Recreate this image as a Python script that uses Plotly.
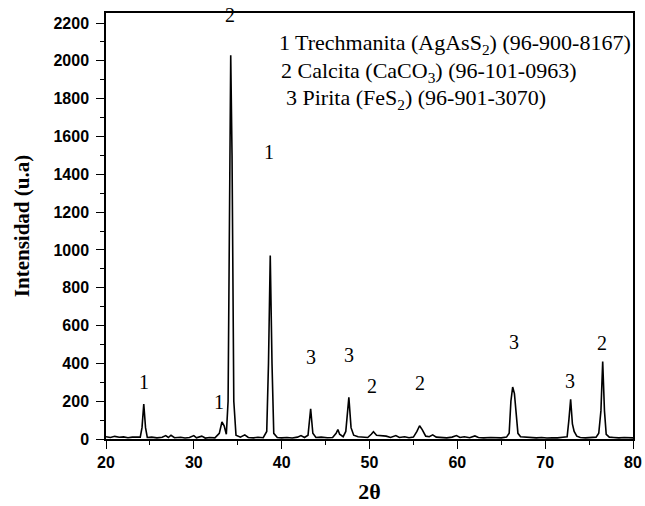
import plotly.graph_objects as go

# 2-theta positions (degrees) and intensities (u.a.)
two_theta = [20.0, 20.5, 21.0, 21.5, 22.0, 22.5, 23.0, 23.5, 23.9, 24.1, 24.3, 24.5, 24.7,
             25.2, 25.8, 26.4, 26.8, 27.1, 27.4, 27.8, 28.5, 29.0, 29.5, 30.0, 30.3, 30.9,
             31.3, 31.8, 32.4, 32.9, 33.2, 33.45, 33.7, 33.9, 34.05, 34.2, 34.35, 34.55, 34.8,
             35.3, 35.8, 36.2, 36.8, 37.3, 37.9, 38.3, 38.5, 38.7, 38.9, 39.1, 39.5, 40.0,
             40.6, 41.2, 41.8, 42.2, 42.6, 43.0, 43.3, 43.55, 43.9, 44.5, 45.2, 45.8, 46.2,
             46.4, 46.6, 47.0, 47.3, 47.65, 47.9, 48.2, 48.7, 49.3, 49.8, 50.2, 50.45, 50.8,
             51.3, 51.9, 52.4, 53.0, 53.4, 54.0, 54.5, 55.0, 55.4, 55.7, 56.0, 56.4, 56.8,
             57.2, 57.6, 58.2, 58.8, 59.4, 59.9, 60.3, 60.8, 61.4, 62.0, 62.4, 63.0, 63.8,
             64.5, 65.0, 65.6, 65.9, 66.1, 66.3, 66.5, 66.7, 66.9, 67.2, 67.8, 68.4, 69.0,
             69.6, 70.2, 70.8, 71.4, 72.0, 72.5, 72.7, 72.9, 73.1, 73.3, 73.6, 74.0, 74.6,
             75.2, 75.8, 76.1, 76.35, 76.55, 76.75, 76.95, 77.3, 77.8, 78.4, 79.0, 79.5, 80.0]
intensity = [12, 8, 14, 9, 11, 7, 10, 8, 10, 60, 185, 60, 8,
             10, 6, 9, 18, 8, 20, 7, 9, 5, 8, 18, 6, 15,
             5, 8, 6, 30, 90, 70, 25, 200, 1200, 2030, 1500, 200, 20,
             10, 22, 8, 6, 9, 7, 40, 400, 970, 400, 30, 8, 6,
             8, 5, 10, 18, 8, 20, 160, 30, 8, 10, 7, 8, 30,
             50, 25, 12, 40, 220, 60, 20, 12, 10, 8, 25, 38, 20,
             18, 15, 8, 18, 8, 12, 7, 10, 40, 70, 50, 15, 12,
             22, 10, 8, 6, 10, 18, 8, 12, 7, 16, 8, 6, 8,
             7, 6, 10, 30, 200, 275, 240, 150, 30, 12, 10, 8, 6,
             8, 5, 7, 6, 9, 12, 100, 210, 80, 40, 15, 8, 6,
             8, 10, 30, 150, 410, 150, 25, 10, 8, 6, 8, 5, 6]

# Peak labels (phase number) and their positions
label_text = ["1", "1", "2", "1", "3", "3", "2", "2", "3", "3", "2"]
label_x = [24.3, 32.9, 34.1, 38.6, 43.3, 47.7, 50.3, 55.7, 66.4, 72.8, 76.5]
label_y = [300, 195, 2240, 1520, 435, 445, 280, 295, 515, 305, 510]

# Legend lines (phase identification)
legend_lines = ["1 Trechmanita (AgAsS<sub>2</sub>) (96-900-8167)",
                "2 Calcita (CaCO<sub>3</sub>) (96-101-0963)",
                "3 Pirita (FeS<sub>2</sub>) (96-901-3070)"]
legend_x = [0.325, 0.329, 0.337]
legend_y = [0.927, 0.862, 0.798]

fig = go.Figure()
fig.add_trace(go.Scatter(x=two_theta, y=intensity, mode="lines",
                         line=dict(color="black", width=1.6), showlegend=False))

serif = "Liberation Serif, Times New Roman, serif"
for t, x, y in zip(label_text, label_x, label_y):
    fig.add_annotation(x=x, y=y, text=t, showarrow=False,
                       font=dict(family=serif, size=20, color="black"))

for t, x, y in zip(legend_lines, legend_x, legend_y):
    fig.add_annotation(x=x, y=y, xref="paper", yref="paper", text=t, showarrow=False,
                       xanchor="left", yanchor="middle",
                       font=dict(family=serif, size=22, color="black"))

axis_common = dict(showline=True, linecolor="black", linewidth=1.5, mirror=True,
                   ticks="outside", ticklen=8, tickwidth=1.3, tickcolor="black",
                   showgrid=False, zeroline=False, automargin=False,
                   tickfont=dict(family="Liberation Sans, Arial, sans-serif", size=16,
                                 color="black", weight="bold"))

fig.update_layout(
    width=645, height=506,
    margin=dict(l=106, r=12, t=13, b=67),
    plot_bgcolor="white", paper_bgcolor="white",
    xaxis=dict(range=[20, 80], dtick=10, tick0=20,
               minor=dict(dtick=5, ticks="outside", ticklen=4, tickcolor="black", tickwidth=1.2),
               title=dict(text="2θ", standoff=14,
                          font=dict(family=serif, size=22, color="black", weight="bold")),
               **axis_common),
    yaxis=dict(range=[0, 2253], dtick=200, tick0=0, ticklabelstandoff=4,
               minor=dict(dtick=100, ticks="outside", ticklen=4, tickcolor="black", tickwidth=1.2),
               title=dict(text="Intensidad (u.a)", standoff=18,
                          font=dict(family=serif, size=21, color="black", weight="bold")),
               **axis_common),
)

fig.write_html("out.html")
